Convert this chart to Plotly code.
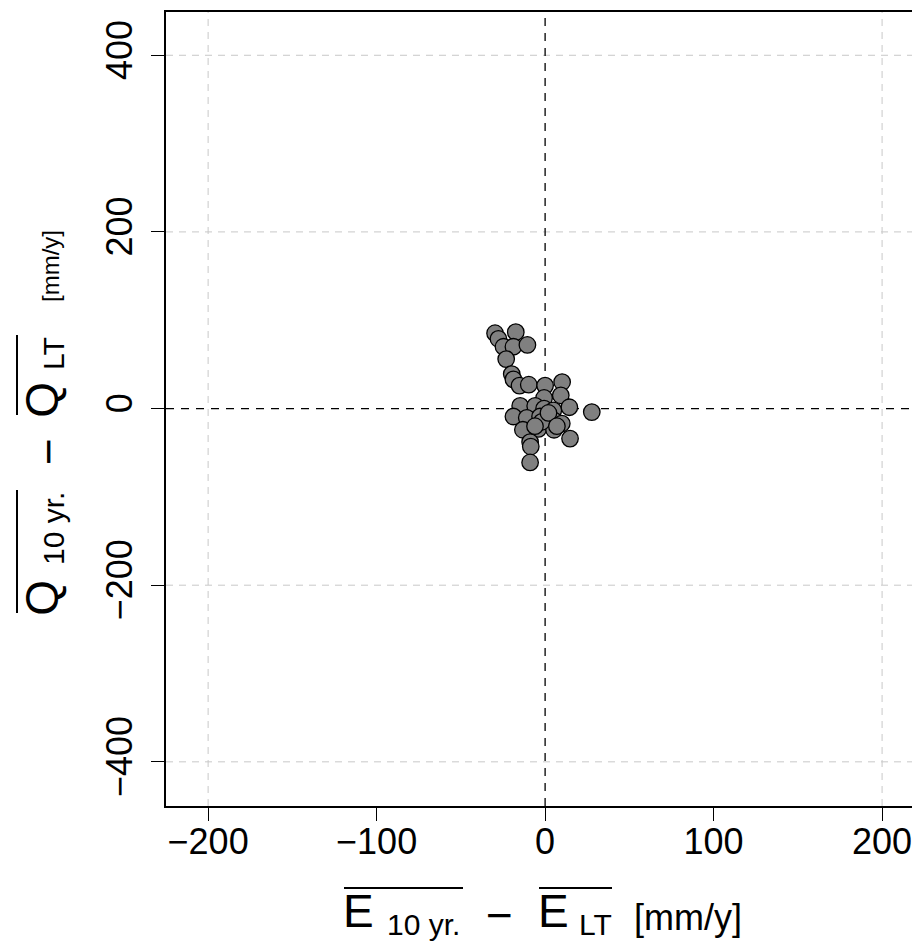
import plotly.graph_objects as go

# ---- data ----
dE = [-29.7, -17.4, -27.7, -24.7, -18.8, -10.5, -23.1, -19.8, -18.8, -15.2,
      -9.7, 0.0, 10.1, -0.6, 9.3, 14.4, 27.7, -14.8, -5.9, -0.6,
      4.9, -18.8, -10.9, -3.0, 4.9, 9.9, -13.2, -4.0, 5.3, 14.8,
      -8.9, -8.5, -8.9, -2.0, 2.0, 7.0, -6.0]
dQ = [85.3, 86.5, 79.0, 70.0, 70.0, 72.0, 56.0, 39.0, 33.0, 26.0,
      27.0, 26.0, 30.0, 12.0, 15.0, 1.5, -4.0, 3.0, 3.0, 0.0,
      -2.0, -9.0, -10.5, -9.0, -13.0, -17.0, -24.0, -23.0, -24.0, -34.0,
      -38.0, -43.0, -61.0, -15.0, -5.0, -20.0, -20.0]

x_ticks = [-200, -100, 0, 100, 200]
x_tick_text = ["\u2212200", "\u2212100", "0", "100", "200"]
y_ticks = [-400, -200, 0, 200, 400]
y_tick_text = ["\u2212400", "\u2212200", "0", "200", "400"]
x_grid = [-200, 200]
y_grid = [-400, -200, 200, 400]

# ---- layout geometry (target pixels in the 920x943 window) ----
OFF = 8  # page body margin
FW, FH = 920 - OFF, 943 - OFF
L, R, T, B = 166, 920, 12, 806
PW, PH = R - L, B - T
FONT = "Liberation Sans, Arial, Helvetica, sans-serif"


def px_x(px):
    return (px - L) / PW


def px_y(py):
    return (B - py) / PH


fig = go.Figure()
fig.add_trace(go.Scatter(
    x=dE, y=dQ, mode="markers",
    marker=dict(size=16.5, color="#808080", line=dict(color="black", width=1.3)),
    showlegend=False, hoverinfo="skip", cliponaxis=False,
))

shapes = []
for gx in x_grid:
    shapes.append(dict(type="line", xref="x", yref="paper", x0=gx, x1=gx, y0=0, y1=1,
                       line=dict(color="#c8c8c8", width=1, dash="7px,6px"), layer="below"))
for gy in y_grid:
    shapes.append(dict(type="line", xref="paper", yref="y", x0=0, x1=1, y0=gy, y1=gy,
                       line=dict(color="#c8c8c8", width=1, dash="7px,6px"), layer="below"))
shapes.append(dict(type="line", xref="x", yref="paper", x0=0, x1=0, y0=0, y1=1,
                   line=dict(color="black", width=1.3, dash="8px,7px"), layer="below"))
shapes.append(dict(type="line", xref="paper", yref="y", x0=0, x1=1, y0=0, y1=0,
                   line=dict(color="black", width=1.3, dash="8px,7px"), layer="below"))

# overlines for titles
for (a, b) in [(344, 463), (539, 612)]:
    shapes.append(dict(type="line", xref="paper", yref="paper",
                       x0=px_x(a), x1=px_x(b), y0=px_y(888), y1=px_y(888),
                       line=dict(color="black", width=2)))
for (a, b) in [(490, 613), (335, 415)]:
    shapes.append(dict(type="line", xref="paper", yref="paper",
                       x0=px_x(17), x1=px_x(17), y0=px_y(a), y1=px_y(b),
                       line=dict(color="black", width=2)))

annotations = []


def piece(text, cx, cy, size, angle=0):
    annotations.append(dict(text=text, x=px_x(cx), y=px_y(cy), xref="paper", yref="paper",
                            xanchor="center", yanchor="middle", showarrow=False,
                            textangle=angle, font=dict(family=FONT, size=size, color="black")))


# x title
piece("E", 358, 911, 46)
piece("10 yr.", 423, 925, 30)
piece("\u2212", 499, 915, 46)
piece("E", 553.5, 911, 46)
piece("LT", 595.5, 925, 30)
piece("[mm/y]", 687.5, 917, 36)
# y title
piece("Q", 41.7, 598, 46, -90)
piece("10 yr.", 53, 529, 30, -90)
piece("\u2212", 48, 452, 46, -90)
piece("Q", 41.7, 400, 46, -90)
piece("LT", 53, 354, 30, -90)
piece("[mm/y]", 50, 266, 24, -90)

fig.update_layout(
    width=FW, height=FH,
    margin=dict(l=L - OFF, r=0, t=T - OFF, b=FH - (B - OFF)),
    paper_bgcolor="white", plot_bgcolor="white",
    shapes=shapes, annotations=annotations,
    font=dict(family=FONT, size=36, color="black"),
    xaxis=dict(range=[-225, 222.5], tickvals=x_ticks, ticktext=x_tick_text,
               showgrid=False, zeroline=False, showline=True, mirror=True,
               linecolor="black", linewidth=1.5, ticks="outside", ticklen=13,
               tickwidth=1.3, tickcolor="black", tickfont=dict(size=36),
               ticklabelstandoff=-10),
    yaxis=dict(range=[-450, 449], tickvals=y_ticks, ticktext=y_tick_text,
               showgrid=False, zeroline=False, showline=True, mirror=False,
               linecolor="black", linewidth=1.5, ticks="outside", ticklen=13,
               tickwidth=1.3, tickcolor="black", tickangle=-90, tickfont=dict(size=36),
               ticklabelstandoff=5),
)

fig.write_html("out.html")
